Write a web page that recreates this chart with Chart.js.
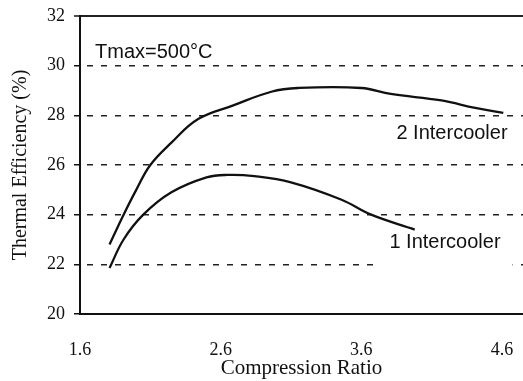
<!DOCTYPE html>
<html>
<head>
<meta charset="utf-8">
<script src="https://cdn.jsdelivr.net/npm/chart.js@4.4.0/dist/chart.umd.min.js"></script>
<style>
  html, body { margin: 0; padding: 0; background: #fff; }
  #wrap { width: 523px; height: 381px; }
</style>
</head>
<body>
<div id="wrap"><canvas id="myChart" width="523" height="381"></canvas></div>
<script>
// values
var ratio2 = [1.81, 1.91, 2.0, 2.1, 2.25, 2.44, 2.69, 2.96, 3.15, 3.6, 3.81, 4.17, 4.41, 4.61];
var eff2   = [22.8, 24.0, 25.0, 26.0, 26.9, 27.85, 28.4, 28.95, 29.1, 29.1, 28.86, 28.6, 28.3, 28.1];
var ratio1 = [1.81, 1.91, 2.05, 2.25, 2.5, 2.65, 2.84, 3.1, 3.46, 3.67, 3.98];
var eff1   = [21.85, 23.0, 24.0, 24.9, 25.5, 25.6, 25.55, 25.3, 24.6, 24.0, 23.4];
var xTicks = [1.6, 2.6, 3.6, 4.6];
var seriesNames = ['1 Intercooler', '2 Intercooler'];

function pts(xs, ys) {
	var out = [];
	for (var i in xs) out.push({x: xs[i], y: ys[i]});
	return out;
}

// text notes, placed in data units
var notes = [
	{text: 'Tmax=500°C', x: 1.707, y: 30.55, pad: [80, 10, 8, 8]},
	{text: seriesNames[1], x: 3.85, y: 27.25, pad: null},
	{text: seriesNames[0], x: 3.8, y: 22.87, pad: [13, 12, 8, 26]}
];

var notesPlugin = {
	id: 'notes',
	beforeDatasetsDraw: function(chart) {
		var ctx = chart.ctx, xs = chart.scales.x, ys = chart.scales.y;
		ctx.save();
		ctx.font = '20px "Liberation Sans", Arial, sans-serif';
		ctx.textBaseline = 'middle';
		ctx.textAlign = 'left';
		notes.forEach(function(n) {
			var px = xs.getPixelForValue(n.x), py = ys.getPixelForValue(n.y);
			var w = ctx.measureText(n.text).width;
			if (n.pad) {
				var left = Math.max(chart.chartArea.left + 2, px - n.pad[0]);
				ctx.fillStyle = '#fff';
				ctx.fillRect(left, py - n.pad[2], px + w + n.pad[1] - left, n.pad[2] + n.pad[3]);
			}
			ctx.fillStyle = '#111';
			ctx.fillText(n.text, px, py);
		});
		ctx.restore();
	}
};

var chartdata = {
	datasets: [
		{
			label: seriesNames[1],
			data: pts(ratio2, eff2),
			borderColor: '#111',
			borderWidth: 2.3,
			pointRadius: 0,
			tension: 0.4,
			fill: false
		},
		{
			label: seriesNames[0],
			data: pts(ratio1, eff1),
			borderColor: '#111',
			borderWidth: 2.3,
			pointRadius: 0,
			tension: 0.4,
			fill: false
		}
	]
};

var ctx = document.getElementById('myChart');

var lineGraph = new Chart(ctx, {
	type: 'line',
	data: chartdata,
	plugins: [notesPlugin],
	options: {
		responsive: false,
		animation: false,
		layout: {padding: {top: 16, right: 0, left: 0, bottom: 0}},
		plugins: {legend: {display: false}, tooltip: {enabled: false}},
		scales: {
			x: {
				type: 'linear',
				min: 1.6,
				max: 4.75,
				afterBuildTicks: function(axis) {
					axis.ticks = xTicks.map(function(v) { return {value: v}; });
				},
				afterFit: function(axis) {
					axis.height = 67;
					axis.paddingLeft = 0;
					axis.paddingRight = 0;
				},
				grid: {display: false, drawTicks: false},
				border: {display: true, color: '#111', width: 2},
				ticks: {
					color: '#111',
					padding: 25,
					maxRotation: 0,
					font: {family: '"Liberation Serif", "Times New Roman", serif', size: 18},
					callback: function(v) { return v.toFixed(1); }
				},
				title: {
					display: true,
					text: 'Compression Ratio',
					color: '#111',
					padding: {top: 0, bottom: 0},
					font: {family: '"Liberation Serif", "Times New Roman", serif', size: 21}
				}
			},
			y: {
				min: 20,
				max: 32,
				afterFit: function(axis) {
					axis.width = 80;
					axis.paddingTop = 0;
					axis.paddingBottom = 0;
				},
				ticks: {
					stepSize: 2,
					color: '#111',
					padding: 9,
					font: {family: '"Liberation Serif", "Times New Roman", serif', size: 18}
				},
				grid: {
					color: function(c) { return c.tick && c.tick.value === 20 ? 'rgba(0,0,0,0)' : '#222'; },
					lineWidth: function(c) { return c.tick && c.tick.value === 32 ? 2 : 1.5; },
					tickColor: '#111',
					tickLength: 6,
					tickWidth: 1.5
				},
				border: {
					display: true,
					color: '#111',
					width: 2,
					dash: function(c) { return c.tick && c.tick.value === 32 ? [] : [6, 8]; },
					dashOffset: -6
				},
				title: {
					display: true,
					text: 'Thermal Efficiency (%)',
					color: '#111',
					padding: {top: 9, bottom: 0},
					font: {family: '"Liberation Serif", "Times New Roman", serif', size: 20}
				}
			}
		}
	}
});
</script>
</body>
</html>
